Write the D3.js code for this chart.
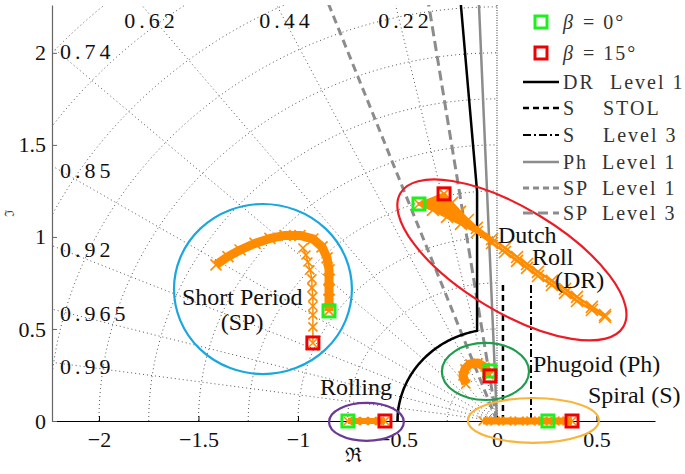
<!DOCTYPE html>
<html>
<head>
<meta charset="utf-8">
<script src="https://cdn.jsdelivr.net/npm/d3@7"></script>
<style>
  body { margin: 0; background: #fff; }
  svg text { font-family: "Liberation Serif", "Times New Roman", serif !important; fill: #111; }
</style>
</head>
<body>
<div id="content"></div>
<script>
// axis ticks
const xTicks = [-2, -1.5, -1, -0.5, 0, 0.5];
const yTicks = [0, 0.5, 1, 1.5, 2];

// s-plane grid: damping ratio rays and natural frequency circles
const dampingRatios = [0.99, 0.965, 0.92, 0.85, 0.74, 0.62, 0.44, 0.22];
const freqRadii = [0.25, 0.5, 0.75, 1, 1.25, 1.5, 1.75, 2, 2.25, 2.5, 2.75, 3];

// handling quality boundaries
const drLevel1 = { wnMin: 0.5, sigmaMin: 0.1, zetaMin: 0.08 };
const phLevel1Zeta = 0.04;
const spLevel1Zeta = 0.35;
const spLevel3Zeta = 0.15;
const sStolSigma = 0.03;
const sLevel3Sigma = 0.171;
const sLineTop = 0.75;

// pole loci [real, imag]
const spBeta0 = [[-0.844, 0.598], [-0.844, 0.660], [-0.844, 0.712], [-0.844, 0.770], [-0.844, 0.821],
  [-0.854, 0.886], [-0.879, 0.946], [-0.925, 0.989], [-0.990, 1.008], [-1.065, 1.008],
  [-1.141, 0.992], [-1.216, 0.965], [-1.291, 0.929], [-1.352, 0.893], [-1.412, 0.848]];
const spBeta15 = [[-0.925, 0.424], [-0.925, 0.511], [-0.925, 0.576], [-0.925, 0.625], [-0.925, 0.674],
  [-0.930, 0.723], [-0.930, 0.772], [-0.940, 0.821], [-0.950, 0.864], [-0.960, 0.902], [-0.975, 0.940]];
const drBeta0 = [[-0.392, 1.179], [-0.322, 1.147], [-0.251, 1.109], [-0.181, 1.071], [-0.101, 1.027],
  [-0.025, 0.967], [0.040, 0.918], [0.101, 0.870], [0.151, 0.832], [0.206, 0.788], [0.276, 0.739],
  [0.342, 0.696], [0.402, 0.652], [0.477, 0.603], [0.543, 0.565]];
const drBeta15 = [[-0.266, 1.234], [-0.226, 1.185], [-0.186, 1.136], [-0.146, 1.092], [-0.101, 1.049],
  [-0.025, 0.989], [0.040, 0.940], [0.101, 0.891], [0.151, 0.853], [0.206, 0.810], [0.276, 0.761],
  [0.342, 0.717], [0.402, 0.674], [0.477, 0.620], [0.543, 0.576]];
const phLocus = [[-0.040, 0.250], [-0.060, 0.293], [-0.095, 0.315], [-0.136, 0.310], [-0.161, 0.283],
  [-0.171, 0.245], [-0.156, 0.201]];
const rollLocus = [[-0.749, 0], [-0.709, 0], [-0.668, 0], [-0.628, 0], [-0.588, 0], [-0.563, 0]];
const spiralLocus = [[-0.070, 0], [-0.010, 0], [0.050, 0], [0.111, 0], [0.171, 0], [0.231, 0],
  [0.291, 0], [0.352, 0], [0.377, 0]];

// end points for each sideslip angle
const beta0Poles = [[-0.844, 0.598], [-0.392, 1.179], [-0.035, 0.272], [-0.749, 0], [0.256, 0]];
const beta15Poles = [[-0.925, 0.424], [-0.266, 1.234], [-0.035, 0.245], [-0.563, 0], [0.377, 0]];

const legendLabels = [["β", "= 0°"], ["β", "= 15°"], ["DR", "Level 1"], ["S", "STOL"],
  ["S", "Level 3"], ["Ph", "Level 1"], ["SP", "Level 1"], ["SP", "Level 3"]];

const W = 685, H = 474;
const svg = d3.select("#content").append("svg").attr("width", W).attr("height", H);

const x = d3.scaleLinear().domain([-2.236, 0.794]).range([52, 655]);
const y = d3.scaleLinear().domain([0, 2.26]).range([421, 5]);

svg.append("clipPath").attr("id", "plot")
  .append("rect").attr("x", 52).attr("y", 5).attr("width", 603).attr("height", 416);

const line = d3.line().x((d) => x(d[0])).y((d) => y(d[1]));

// grid
const grid = svg.append("g").attr("clip-path", "url(#plot)")
  .attr("fill", "none").attr("stroke", "#555").attr("stroke-width", 1).attr("stroke-dasharray", "1,3");

freqRadii.forEach((r) => {
  const pts = d3.range(0, 90.5, 1).map((a) => [-r * Math.cos(a * Math.PI / 180), r * Math.sin(a * Math.PI / 180)]);
  grid.append("path").attr("d", line(pts));
});
dampingRatios.forEach((z) => {
  grid.append("path").attr("d", line([[0, 0], [-4 * z, 4 * Math.sqrt(1 - z * z)]]));
});
grid.append("path").attr("d", line([[0, 0], [0, 2.3]])).attr("stroke", "#333").attr("stroke-dasharray", "1,1.5");

// damping labels
dampingRatios.forEach((z) => {
  const t = Math.sqrt(1 - z * z) / z;
  const yl = -x.domain()[0] * t;
  let tx, ty, anchor;
  if (yl < y.domain()[1]) {
    tx = x.range()[0] + 8; ty = y(yl) + 4; anchor = "start";
  } else {
    tx = x(-y.domain()[1] / t) + 10; ty = 20; anchor = "middle";
  }
  svg.append("text").attr("x", tx).attr("y", ty).attr("dy", "0.35em")
    .attr("text-anchor", anchor).attr("font-size", 22).attr("letter-spacing", "4px")
    .text(String(z));
});

// requirement boundaries
const req = svg.append("g").attr("clip-path", "url(#plot)").attr("fill", "none");
const zetaY = (z, xv) => -xv * Math.sqrt(1 - z * z) / z;
const zetaX = (z, yv) => -yv * z / Math.sqrt(1 - z * z);

const a0 = Math.acos(-drLevel1.sigmaMin / drLevel1.wnMin);
const drPts = d3.range(Math.PI, a0, -0.02).map((a) => [drLevel1.wnMin * Math.cos(a), drLevel1.wnMin * Math.sin(a)]);
drPts.push([-drLevel1.sigmaMin, drLevel1.wnMin * Math.sin(a0)]);
drPts.push([-drLevel1.sigmaMin, zetaY(drLevel1.zetaMin, -drLevel1.sigmaMin)]);
drPts.push([zetaX(drLevel1.zetaMin, 2.5), 2.5]);

const reqLines = [
  { pts: [[0, 0], [zetaX(spLevel1Zeta, 2.5), 2.5]], stroke: "#8c8c8c", width: 3, dash: "8,5" },
  { pts: [[0, 0], [zetaX(spLevel3Zeta, 2.5), 2.5]], stroke: "#8c8c8c", width: 3, dash: "10,5" },
  { pts: [[0, 0], [zetaX(phLevel1Zeta, 2.5), 2.5]], stroke: "#8c8c8c", width: 2.5, dash: null },
  { pts: drPts, stroke: "#000", width: 2.5, dash: null },
  { pts: [[sStolSigma, 0], [sStolSigma, sLineTop]], stroke: "#000", width: 2.5, dash: "6,4" },
  { pts: [[sLevel3Sigma, 0], [sLevel3Sigma, sLineTop]], stroke: "#000", width: 2, dash: "8,3,2,3" },
];
reqLines.forEach((l) => {
  req.append("path").attr("d", line(l.pts)).attr("stroke", l.stroke)
    .attr("stroke-width", l.width).attr("stroke-dasharray", l.dash);
});

// axes
const xAxis = svg.append("g").attr("transform", `translate(0,${y(0)})`)
  .call(d3.axisBottom(x).tickValues(xTicks).tickSizeInner(-5).tickSizeOuter(0).tickPadding(10).tickFormat(d3.format("")));
const yAxis = svg.append("g").attr("transform", `translate(${x.range()[0]},0)`)
  .call(d3.axisLeft(y).tickValues(yTicks).tickSizeInner(-5).tickSizeOuter(0).tickPadding(6).tickFormat(d3.format("")));
[xAxis, yAxis].forEach((a) => {
  a.attr("font-family", null).attr("font-size", null);
  a.selectAll("text").attr("font-size", 22).style("fill", "#111");
});
xAxis.select(".domain").attr("stroke", "#000").attr("stroke-width", 1.2);
xAxis.selectAll(".tick line").attr("stroke", "#000");
yAxis.select(".domain").attr("stroke", "#666").attr("stroke-width", 1.2);
yAxis.selectAll(".tick line").attr("stroke", "#666");

svg.append("text").attr("x", 353).attr("y", 462).attr("text-anchor", "middle")
  .attr("font-size", 20).text("ℜ");
svg.append("text").attr("transform", "translate(14,213) rotate(-90)").attr("text-anchor", "middle")
  .attr("font-size", 13).style("fill", "#444").text("ℑ");

// mode ellipses
const ellipses = [
  { cx: -1.176, cy: 0.717, rx: 0.447, ry: 0.462, angle: 0, color: "#1aa7e0" },
  { cx: 0.075, cy: 0.875, rx: 0.653, ry: 0.283, angle: 31, color: "#ed1c24" },
  { cx: -0.058, cy: 0.269, rx: 0.219, ry: 0.155, angle: 0, color: "#1e9e4c" },
  { cx: -0.656, cy: -0.005, rx: 0.188, ry: 0.103, angle: 0, color: "#6b3a97" },
  { cx: 0.183, cy: 0.003, rx: 0.329, ry: 0.122, angle: 0, color: "#f8b53a" },
];
ellipses.forEach((e) => {
  svg.append("ellipse")
    .attr("transform", `translate(${x(e.cx)},${y(e.cy)}) rotate(${e.angle})`)
    .attr("rx", x(e.cx + e.rx) - x(e.cx)).attr("ry", y(e.cy) - y(e.cy + e.ry))
    .attr("fill", "none").attr("stroke", e.color).attr("stroke-width", 2.2);
});

// loci
const orange = "#ff8c00";
const cross = (s) => `M${-s},${-s}L${s},${s}M${-s},${s}L${s},${-s}`;
const lociG = svg.append("g");

// dense band between the two dutch roll branches
lociG.append("path")
  .attr("d", line(drBeta0.slice(0, 6).concat(drBeta15.slice(0, 6).reverse())) + "Z")
  .attr("fill", orange).attr("stroke", orange).attr("stroke-width", 3).attr("stroke-linejoin", "round");

const loci = [
  { pts: spBeta0, band: 9, size: 5.5 },
  { pts: spBeta15, band: 1.5, size: 4.5 },
  { pts: drBeta0, band: 2.5, size: 6 },
  { pts: drBeta15, band: 2.5, size: 6 },
  { pts: phLocus, band: 9, size: 4.5 },
  { pts: rollLocus, band: 6, size: 4 },
  { pts: spiralLocus, band: 7, size: 4.5 },
];
loci.forEach((l) => {
  lociG.append("path").attr("d", line(l.pts)).attr("fill", "none").attr("stroke", orange)
    .attr("stroke-width", l.band).attr("stroke-linejoin", "round");
  lociG.selectAll(null).data(l.pts).enter().append("path")
    .attr("transform", (d) => `translate(${x(d[0])},${y(d[1])})`)
    .attr("d", cross(l.size)).attr("stroke", orange).attr("stroke-width", 1.6).attr("fill", "none");
});

// beta end points
[[beta0Poles, "#1ef01e"], [beta15Poles, "#f00000"]].forEach(([pts, c]) => {
  svg.append("g").selectAll("rect").data(pts).enter().append("rect")
    .attr("x", (d) => x(d[0]) - 6).attr("y", (d) => y(d[1]) - 6)
    .attr("width", 12).attr("height", 12)
    .attr("fill", "none").attr("stroke", c).attr("stroke-width", 3);
});

// annotations
const notes = [
  { t: "Short Period", p: [-1.583, 0.630], a: "start" },
  { t: "(SP)", p: [-1.281, 0.495], a: "middle" },
  { t: "Dutch", p: [0.005, 0.967], a: "start" },
  { t: "Roll", p: [0.176, 0.848], a: "start" },
  { t: "(DR)", p: [0.291, 0.723], a: "start" },
  { t: "Phugoid (Ph)", p: [0.181, 0.266], a: "start" },
  { t: "Spiral (S)", p: [0.457, 0.098], a: "start" },
  { t: "Rolling", p: [-0.528, 0.141], a: "end" },
];
notes.forEach((n) => {
  svg.append("text").attr("x", x(n.p[0])).attr("y", y(n.p[1])).attr("text-anchor", n.a)
    .attr("font-size", 24).text(n.t);
});

// legend
const legendRows = [22, 53, 82, 108, 135, 162, 188, 213];
const legendStyles = [
  { sq: "#1ef01e" }, { sq: "#f00000" },
  { stroke: "#000", width: 2.5, dash: null },
  { stroke: "#000", width: 2.5, dash: "6,4" },
  { stroke: "#000", width: 2, dash: "8,3,2,3" },
  { stroke: "#8c8c8c", width: 2.5, dash: null },
  { stroke: "#8c8c8c", width: 3, dash: "6,4" },
  { stroke: "#8c8c8c", width: 3, dash: "10,5" },
];
const restX = [583, 583, 610, 603, 603, 602, 602, 602];
const legend = svg.append("g");
legendLabels.forEach((lab, i) => {
  const yy = legendRows[i], st = legendStyles[i];
  if (st.sq) {
    legend.append("rect").attr("x", 535).attr("y", yy - 6).attr("width", 12).attr("height", 12)
      .attr("fill", "none").attr("stroke", st.sq).attr("stroke-width", 3);
  } else {
    legend.append("line").attr("x1", 523).attr("x2", 559).attr("y1", yy).attr("y2", yy)
      .attr("stroke", st.stroke).attr("stroke-width", st.width).attr("stroke-dasharray", st.dash);
  }
  const t = legend.append("text").attr("y", yy).attr("dy", "0.35em").attr("font-size", 20)
    .attr("letter-spacing", "2px").style("fill", "#333");
  t.append("tspan").attr("x", 563).attr("font-style", i < 2 ? "italic" : null).text(lab[0]);
  t.append("tspan").attr("x", restX[i]).text(lab[1]);
});
</script>
</body>
</html>
